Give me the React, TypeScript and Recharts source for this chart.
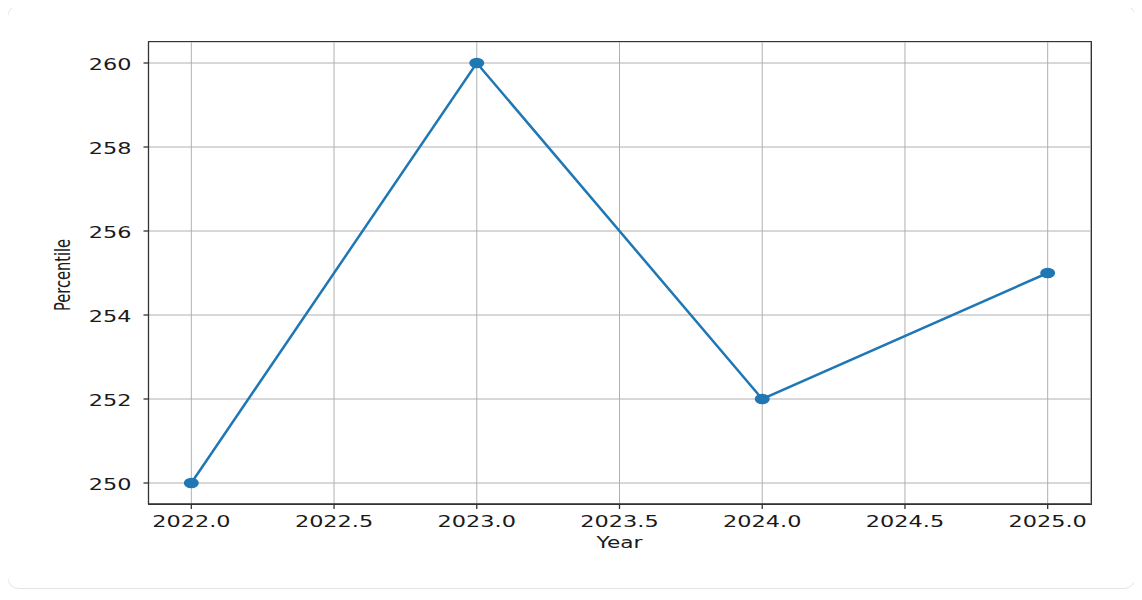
import { CartesianGrid, Line, LineChart, XAxis, YAxis } from "recharts";

const years = [2022, 2023, 2024, 2025];
const percentiles = [250, 260, 252, 255];
const xTicks = [2022, 2022.5, 2023, 2023.5, 2024, 2024.5, 2025];
const yTicks = [250, 252, 254, 256, 258, 260];

const data = years.map((year, i) => ({ year, percentile: percentiles[i] }));

const FONT = "'DejaVu Sans', sans-serif";
const STRETCH = 1.4;

// plot box in page pixels
const PLOT = { left: 148.5, top: 42, right: 1090.5, bottom: 504 };

const XTick = ({ x, y, payload }: any) => (
  <text
    transform={`translate(${x},${y + 16}) scale(${STRETCH},1)`}
    textAnchor="middle"
    fontFamily={FONT}
    fontSize={16}
    fill="#1a1a1a"
  >
    {Number(payload.value).toFixed(1)}
  </text>
);

const YTick = ({ x, y, payload }: any) => (
  <text
    transform={`translate(${x - 10},${y + 6.5}) scale(${STRETCH},1)`}
    textAnchor="end"
    fontFamily={FONT}
    fontSize={16}
    fill="#1a1a1a"
  >
    {payload.value}
  </text>
);

const Dot = ({ cx, cy }: any) =>
  cx == null ? null : <ellipse cx={cx} cy={cy} rx={7.5} ry={5.3} fill="#1f77b4" />;

const App = () => {
  return (
    <div style={{ position: "relative", width: 1142, height: 600, margin: -8 }}>
      <div
        style={{
          position: "absolute",
          left: 7,
          top: 5,
          width: 1127,
          height: 582,
          border: "1px solid #e4e4e4",
          borderRadius: 12,
          background: "#fff",
        }}
      />
      <div style={{ position: "absolute", left: 0, top: 0 }}>
        <LineChart
          width={1142}
          height={600}
          data={data}
          margin={{ top: PLOT.top, right: 1142 - PLOT.right, bottom: 600 - PLOT.bottom - 30, left: PLOT.left - 60 }}
        >
          <CartesianGrid stroke="#b0b0b0" strokeWidth={1} />
          <XAxis
            dataKey="year"
            type="number"
            domain={[2021.85, 2025.15]}
            ticks={xTicks}
            allowDataOverflow
            height={30}
            stroke="#333"
            strokeWidth={1.3}
            tickSize={5}
            tick={<XTick />}
            label={{
              content: ({ viewBox }: any) => (
                <text
                  transform={`translate(${viewBox.x + viewBox.width / 2},548) scale(${STRETCH},1)`}
                  textAnchor="middle"
                  fontFamily={FONT}
                  fontSize={15.5}
                  fill="#1a1a1a"
                >
                  Year
                </text>
              ),
            }}
          />
          <YAxis
            type="number"
            domain={[249.5, 260.5]}
            ticks={yTicks}
            allowDataOverflow
            width={60}
            stroke="#333"
            strokeWidth={1.3}
            tickSize={5}
            tick={<YTick />}
            label={{
              content: ({ viewBox }: any) => (
                <text
                  transform={`translate(70,${viewBox.y + viewBox.height / 2 + 2}) scale(${STRETCH},1) rotate(-90)`}
                  textAnchor="middle"
                  fontFamily={FONT}
                  fontSize={14.6}
                  fill="#1a1a1a"
                >
                  Percentile
                </text>
              ),
            }}
          />
          <Line
            dataKey="percentile"
            stroke="#1f77b4"
            strokeWidth={2.5}
            dot={<Dot />}
            activeDot={false}
            isAnimationActive={false}
          />
        </LineChart>
      </div>
      <div
        style={{
          position: "absolute",
          left: PLOT.left - 0.65,
          top: PLOT.top - 0.65,
          width: PLOT.right - PLOT.left,
          height: PLOT.bottom - PLOT.top,
          border: "1.3px solid #333",
          pointerEvents: "none",
        }}
      />
    </div>
  );
};

export default App;
